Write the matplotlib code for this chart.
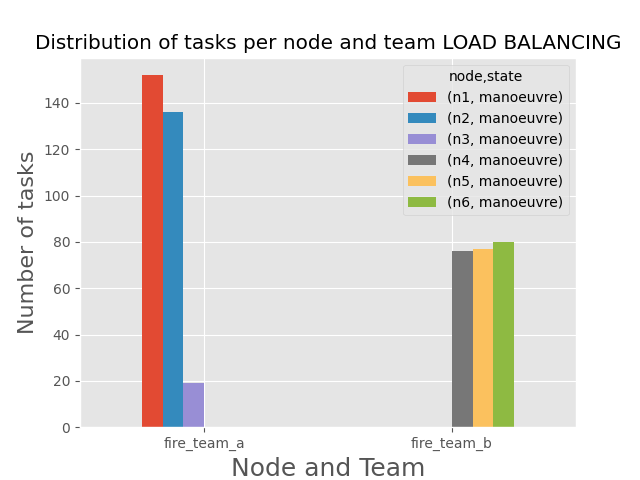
import matplotlib
matplotlib.use("Agg")
import matplotlib.pyplot as plt
import numpy as np
import pandas as pd

plt.style.use('ggplot')

teams = ['fire_team_a', 'fire_team_b']
nodes = ['n1', 'n2', 'n3', 'n4', 'n5', 'n6']
state = 'manoeuvre'
# tasks per node, NaN where the node has no tasks for that team
team_a = [152, 136, 19, np.nan, np.nan, np.nan]
team_b = [np.nan, np.nan, np.nan, 76, 77, 80]

cols = pd.MultiIndex.from_tuples([(n, state) for n in nodes], names=['node', 'state'])
df = pd.DataFrame([team_a, team_b], index=teams, columns=cols)

fig, ax = plt.subplots(figsize=(6.4, 4.8), dpi=100)
df.plot.bar(ax=ax, rot=0)
ax.set_title('Distribution of tasks per node and team LOAD BALANCING')
ax.set_xlabel('Node and Team', fontsize=18)
ax.set_ylabel('Number of tasks', fontsize=16)
ax.legend(title='node,state')

fig.savefig('out.png')
